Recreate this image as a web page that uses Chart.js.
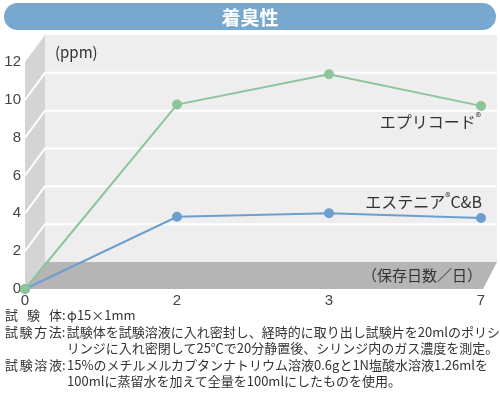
<!DOCTYPE html>
<html>
<head>
<meta charset="utf-8">
<script src="https://cdn.jsdelivr.net/npm/chart.js@4.4.1/dist/chart.umd.min.js"></script>
<style>
    html, body { margin: 0; padding: 0; background: #fff; }
    body { width: 500px; height: 396px; position: relative; overflow: hidden; }
    .title-bar {
        position: absolute; left: 4px; top: 3px; width: 492px; height: 27px;
        border-radius: 14px; background: #79a8cf; color: #fff;
        font: bold 19px "Noto Sans CJK JP", sans-serif; line-height: 27px; text-align: center;
    }
    .chart-wrap { position: absolute; left: 0; top: 0; width: 500px; height: 312px; }
    .notes {
        position: absolute; left: 5px; top: 307px; width: 495px;
        font: 13px "Noto Sans CJK JP", sans-serif; line-height: 16.6px; color: #333;
        white-space: nowrap;
    }
    .notes .row { display: flex; }
    .notes .lbl { display: inline-block; width: 57px; text-align: justify; text-align-last: justify; }
    .notes .colon { display: inline-block; width: 5px; }
</style>
</head>
<body>
<div class="chart-wrap"><canvas id="chart" width="500" height="312"></canvas></div>
<div class="title-bar">着臭性</div>
<div class="notes">
    <div class="row"><span class="lbl">試験体</span><span class="colon">:</span><span>φ15×1mm</span></div>
    <div class="row"><span class="lbl">試験方法</span><span class="colon">:</span><span>試験体を試験溶液に入れ密封し、経時的に取り出し試験片を20mlのポリシ<br>リンジに入れ密閉して25℃で20分静置後、シリンジ内のガス濃度を測定。</span></div>
    <div class="row"><span class="lbl">試験溶液</span><span class="colon">:</span><span>15%のメチルメルカプタンナトリウム溶液0.6gと1N塩酸水溶液1.26mlを<br>100mlに蒸留水を加えて全量を100mlにしたものを使用。</span></div>
</div>
<script>
// storage days and odor concentration (ppm)
const days = ['0', '2', '3', '7'];
const epricord = [0, 9.75, 11.35, 9.68];
const esthenia = [0, 3.82, 4.0, 3.75];
const yTicks = [0, 2, 4, 6, 8, 10, 12];

const GREEN = '#8dc59b';
const BLUE = '#6c9fcf';
const DX = 20, DY = -27;   // depth offset of the back wall

// draw "text" with smaller raised parts, right aligned at x
function richText(ctx, parts, x, y) {
    let total = 0;
    parts.forEach(p => {
        ctx.font = p.size + 'px "Noto Sans CJK JP", sans-serif';
        p.w = ctx.measureText(p.t).width;
        total += p.w;
    });
    let cx = x - total;
    parts.forEach(p => {
        ctx.font = p.size + 'px "Noto Sans CJK JP", sans-serif';
        ctx.fillText(p.t, cx, y + (p.dy || 0));
        cx += p.w;
    });
}

const backdrop = {
    id: 'backdrop',
    beforeDatasetsDraw(chart) {
        const { ctx, chartArea: a, scales } = chart;
        const y = scales.y;
        const backRight = a.right + 16;
        ctx.save();

        // back wall
        ctx.fillStyle = '#eeeeee';
        ctx.fillRect(a.left + DX, a.top + DY, backRight - a.left - DX, a.bottom - a.top);

        // side wall
        ctx.fillStyle = '#d4d4d4';
        ctx.beginPath();
        ctx.moveTo(a.left, a.top);
        ctx.lineTo(a.left + DX, a.top + DY);
        ctx.lineTo(a.left + DX, a.bottom + DY);
        ctx.lineTo(a.left, a.bottom);
        ctx.closePath();
        ctx.fill();

        // grid lines
        ctx.strokeStyle = '#ffffff';
        ctx.lineWidth = 2;
        yTicks.slice(1, -1).forEach(v => {
            const py = y.getPixelForValue(v);
            ctx.beginPath();
            ctx.moveTo(a.left, py);
            ctx.lineTo(a.left + DX, py + DY);
            ctx.lineTo(backRight, py + DY);
            ctx.stroke();
        });

        // floor
        ctx.fillStyle = '#b5b5b5';
        ctx.beginPath();
        ctx.moveTo(a.left, a.bottom);
        ctx.lineTo(a.left + DX, a.bottom + DY);
        ctx.lineTo(backRight, a.bottom + DY);
        ctx.lineTo(a.right + 2, a.bottom);
        ctx.closePath();
        ctx.fill();

        // labels
        ctx.fillStyle = '#333';
        ctx.textBaseline = 'middle';
        ctx.textAlign = 'left';
        ctx.font = '15px "Noto Sans CJK JP", sans-serif';
        ctx.fillText('(ppm)', a.left + 30, a.top - 10);
        richText(ctx, [{ t: 'エプリコード', size: 16 }, { t: '®', size: 11, dy: -5 }], a.right, 122);
        richText(ctx, [{ t: 'エステニア', size: 16 }, { t: '®', size: 11, dy: -5 }, { t: 'C&B', size: 16 }], a.right + 1, 202);
        richText(ctx, [{ t: '（保存日数／日）', size: 15 }], a.right + 1, 275);
        ctx.restore();
    }
};

new Chart(document.getElementById('chart'), {
    type: 'line',
    data: {
        labels: days,
        datasets: [
            {
                label: 'エプリコード®',
                data: epricord,
                borderColor: GREEN,
                backgroundColor: GREEN,
                borderWidth: 2,
                pointRadius: 4,
                clip: false
            },
            {
                label: 'エステニア®C&B',
                data: esthenia,
                borderColor: BLUE,
                backgroundColor: BLUE,
                borderWidth: 2,
                pointRadius: 4,
                clip: false
            }
        ]
    },
    options: {
        responsive: false,
        animation: false,
        layout: { padding: { top: 62, right: 19, left: 0, bottom: 0 } },
        plugins: { legend: { display: false }, tooltip: { enabled: false } },
        scales: {
            x: {
                offset: false,
                grid: { display: false, drawTicks: false },
                border: { display: false },
                ticks: { padding: 3, color: '#444', font: { family: 'Liberation Sans', size: 15 } },
                afterFit(s) { s.height = 23; }
            },
            y: {
                min: 0,
                max: 12,
                afterBuildTicks(s) { s.ticks = yTicks.map(v => ({ value: v })); },
                grid: { display: false, drawTicks: false },
                border: { display: false },
                ticks: { padding: 4, color: '#444', font: { family: 'Liberation Sans', size: 15 } },
                afterFit(s) { s.width = 25; }
            }
        }
    },
    plugins: [backdrop]
});
</script>
</body>
</html>
